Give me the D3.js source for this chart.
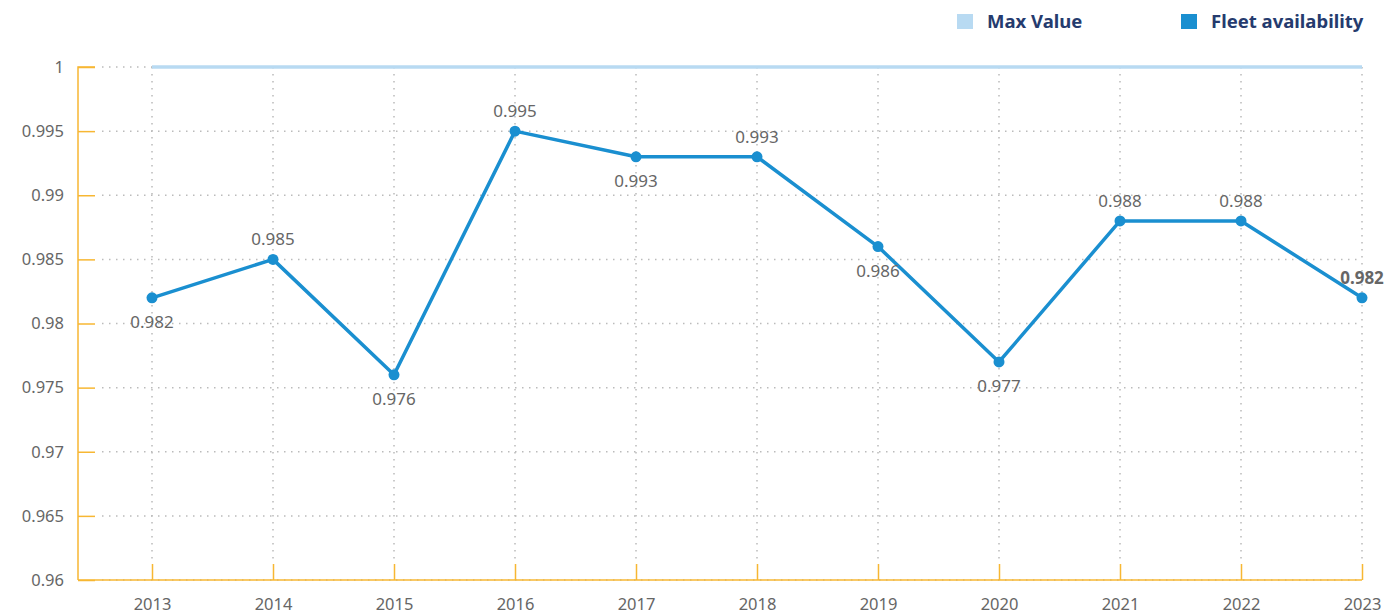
<!DOCTYPE html>
<html>
<head>
<meta charset="utf-8">
<script src="https://cdn.jsdelivr.net/npm/d3@7/dist/d3.min.js"></script>
<style>
  html, body { margin: 0; padding: 0; background: #fff; }
  svg { display: block; font-family: "Segoe UI", "Noto Sans", sans-serif; }
</style>
</head>
<body>
<svg id="chart" width="1388" height="616"></svg>
<script>
// Fleet availability by year
const years = ["2013","2014","2015","2016","2017","2018","2019","2020","2021","2022","2023"];
const availability = [0.982, 0.985, 0.976, 0.995, 0.993, 0.993, 0.986, 0.977, 0.988, 0.988, 0.982];
const labelSide = ["below","above","below","above","below","above","below","below","above","above","above"];
const maxValue = 1;
const yTicks = [0.96, 0.965, 0.97, 0.975, 0.98, 0.985, 0.99, 0.995, 1];
const seriesNames = ["Max Value", "Fleet availability"];

const svg = d3.select("#chart");
const axisColor = "#f7b733";
const lineColor = "#1a8fd0";
const maxColor = "#b8daf2";
const textColor = "#666";

const plotLeft = 78, plotRight = 1362, plotTop = 67, plotBottom = 580;

const x = d3.scalePoint().domain(years).range([152, 1362]);
const y = d3.scaleLinear().domain([0.96, 1]).range([plotBottom, plotTop]);

// Gridlines
const grid = svg.append("g");
grid.selectAll("line.h").data(yTicks).join("line")
  .attr("class", "h")
  .attr("x1", 102).attr("x2", plotRight)
  .attr("y1", d => y(d)).attr("y2", d => y(d))
  .attr("stroke", "#bbb").attr("stroke-width", 1.5)
  .attr("stroke-dasharray", "1.5 5.5");
grid.selectAll("line.v").data(years).join("line")
  .attr("class", "v")
  .attr("x1", d => x(d)).attr("x2", d => x(d))
  .attr("y1", plotTop).attr("y2", plotBottom - 20)
  .attr("stroke", "#bbb").attr("stroke-width", 1.5)
  .attr("stroke-dasharray", "1.5 5.5");

// Y axis
const yAxis = svg.append("g")
  .attr("transform", `translate(${plotLeft},0)`)
  .call(d3.axisRight(y).tickValues(yTicks).tickSize(17).tickFormat(d3.format("~g")));
yAxis.select(".domain").attr("stroke", axisColor).attr("stroke-width", 1.5)
  .attr("d", `M17,${plotTop}H0V${plotBottom}`);
yAxis.selectAll(".tick line").attr("stroke", axisColor).attr("stroke-width", 1.5);
yAxis.selectAll(".tick text")
  .attr("x", -14).attr("text-anchor", "end")
  .attr("fill", textColor).attr("font-size", 16.5)
  .style("font-family", "'Segoe UI', 'Noto Sans', sans-serif");

// X axis
const xAxis = svg.append("g")
  .attr("transform", `translate(0,${plotBottom})`)
  .call(d3.axisTop(x).tickSize(16).tickSizeOuter(0));
xAxis.select(".domain").attr("stroke", axisColor).attr("stroke-width", 1.5)
  .attr("d", `M${plotLeft},0H${plotRight}`);
xAxis.selectAll(".tick line").attr("stroke", axisColor).attr("stroke-width", 1.5);
xAxis.selectAll(".tick text")
  .attr("y", 30).attr("dy", 0)
  .attr("fill", textColor).attr("font-size", 16.5)
  .style("font-family", "'Segoe UI', 'Noto Sans', sans-serif");

// Max value reference line
svg.append("line")
  .attr("x1", x(years[0])).attr("x2", x(years[years.length - 1]))
  .attr("y1", y(maxValue)).attr("y2", y(maxValue))
  .attr("stroke", maxColor).attr("stroke-width", 3.5);

// Availability line
const data = years.map((yr, i) => ({ year: yr, value: availability[i], side: labelSide[i] }));
svg.append("path")
  .datum(data)
  .attr("fill", "none")
  .attr("stroke", lineColor)
  .attr("stroke-width", 3.5)
  .attr("stroke-linejoin", "round")
  .attr("d", d3.line().x(d => x(d.year)).y(d => y(d.value)));

svg.selectAll("circle.pt").data(data).join("circle")
  .attr("class", "pt")
  .attr("cx", d => x(d.year)).attr("cy", d => y(d.value))
  .attr("r", 5.5).attr("fill", lineColor);

// Value labels
svg.selectAll("text.val").data(data).join("text")
  .attr("class", "val")
  .attr("x", d => x(d.year))
  .attr("y", d => y(d.value) + (d.side === "above" ? -14 : 30))
  .attr("text-anchor", "middle")
  .attr("fill", textColor)
  .attr("font-size", 17)
  .attr("font-weight", (d, i) => i === data.length - 1 ? "bold" : "normal")
  .text(d => d3.format(".3f")(d.value));

// Legend
const legendColors = [maxColor, lineColor];
const legendX = [957, 1181];
const legend = svg.append("g");
seriesNames.forEach((name, i) => {
  legend.append("rect")
    .attr("x", legendX[i]).attr("y", 14)
    .attr("width", 16).attr("height", 15)
    .attr("fill", legendColors[i]);
  legend.append("text")
    .attr("x", legendX[i] + 30).attr("y", 28)
    .attr("fill", "#253b6e")
    .attr("font-size", 18.5).attr("font-weight", "bold")
    .text(name);
});
</script>
</body>
</html>
